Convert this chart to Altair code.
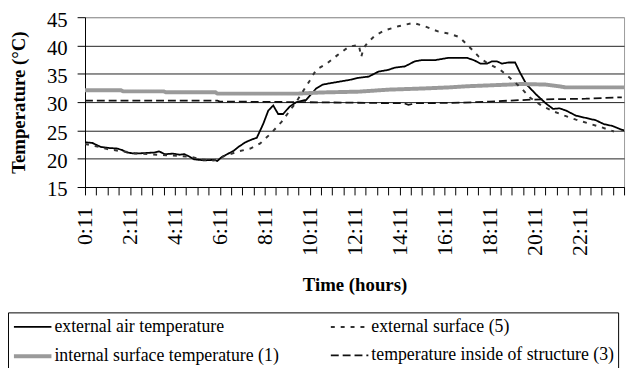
import altair as alt
import pandas as pd

SERIES = ["external air temperature", "internal surface temperature (1)",
          "external surface (5)", "temperature inside of structure (3)"]

# hours after 0:11
air_h = [0.0, 0.32, 0.69, 1.05, 1.42, 1.64, 1.86, 2.23, 2.67, 3.11, 3.30, 3.55, 3.91, 4.21,
         4.42, 4.64, 4.86, 5.30, 5.74, 5.89, 6.09, 6.33, 6.62, 6.84, 7.14, 7.43, 7.65, 7.94,
         8.16, 8.38, 8.60, 8.82, 9.11, 9.41, 9.85, 10.07, 10.29, 10.58, 11.16, 11.75, 12.19,
         12.63, 13.07, 13.51, 13.80, 14.24, 14.68, 14.97, 15.56, 16.15, 17.02, 17.32, 17.61,
         17.90, 18.12, 18.34, 18.56, 18.86, 19.15, 19.37, 19.66, 20.10, 20.54, 20.84, 21.13,
         21.42, 21.86, 22.30, 22.74, 23.11, 23.47, 23.91, 24.0]
air_t = [22.9, 22.8, 22.1, 21.9, 21.8, 21.55, 21.1, 20.9, 21.0, 21.1, 21.3, 20.8, 20.9, 20.7,
         20.8, 20.4, 19.9, 19.7, 19.8, 19.6, 20.3, 20.8, 21.4, 22.1, 22.9, 23.4, 23.7, 26.2,
         28.5, 29.4, 27.9, 27.9, 29.2, 30.0, 30.4, 31.4, 32.4, 33.1, 33.5, 33.9, 34.3,
         34.5, 35.4, 35.7, 36.1, 36.3, 37.2, 37.4, 37.4, 37.8, 37.8, 37.4, 36.8,
         36.8, 37.2, 37.2, 36.8, 37.0, 37.0, 35.2, 33.1, 31.3, 29.7, 28.8, 28.9,
         28.5, 27.6, 27.2, 26.8, 26.1, 25.8, 25.1, 25.0]

surf_h = [0.0, 0.5, 1.0, 1.5, 2.2, 2.9, 3.6, 4.2, 4.75, 5.30, 5.74, 6.3, 6.84, 7.36, 7.80,
          8.31, 8.75, 9.4, 9.99, 10.29, 10.80, 11.24, 11.75, 12.19, 12.30, 12.40, 12.56,
          12.92, 13.36, 13.95, 14.61, 15.12, 15.71, 16.22, 16.66, 17.10, 17.54, 17.90,
          18.49, 19.0, 19.44, 19.81, 20.32, 20.84, 21.35, 21.86, 22.45, 22.96, 23.55]
surf_t = [22.6, 22.2, 21.7, 21.4, 21.0, 20.8, 20.6, 20.5, 20.3, 19.8, 19.7, 20.6, 21.3, 21.8,
          22.7, 24.6, 26.5, 30.0, 33.7, 35.7, 36.9, 38.3, 39.8, 40.1, 38.0, 39.5, 40.4,
          41.8, 42.7, 43.4, 44.0, 43.4, 42.5, 42.1, 41.5, 39.8, 38.0, 36.9,
          35.7, 34.0, 32.4, 30.8, 29.4, 28.4, 27.6, 26.9, 26.2, 25.6, 24.8]

int_h = [0.0, 1.6, 1.7, 3.5, 3.6, 5.8, 5.9, 9.5, 10.5, 12.2, 13.5, 15.0, 16.2, 17.0, 18.9,
         19.4, 20.5, 21.1, 21.4, 24.0]
int_t = [32.1, 32.1, 31.9, 31.9, 31.75, 31.75, 31.5, 31.5, 31.7, 31.85, 32.2, 32.4, 32.6,
         32.8, 33.1, 33.2, 33.1, 32.8, 32.6, 32.6]

ins_h = [0.0, 5.9, 6.0, 9.4, 14.2, 14.4, 14.6, 14.7, 16.8, 18.0, 19.4, 20.0, 22.3, 23.9]
ins_t = [30.25, 30.25, 30.1, 30.0, 29.8, 29.5, 29.7, 29.8, 29.9, 30.1, 30.35, 30.45, 30.6, 30.85]

y_ticks = [15, 20, 25, 30, 35, 40, 45]
x_ticks = [i * 0.5 for i in range(49)]

COLORS = ["#000000", "#9a9a9a", "#333333", "#111111"]
DASHES = [[1, 0], [1, 0], [4, 6], [8, 4]]
WIDTHS = [1.8, 4.0, 2.0, 1.8]

frames = []
for name, hs, ts in zip(SERIES, [air_h, int_h, surf_h, ins_h], [air_t, int_t, surf_t, ins_t]):
    assert len(hs) == len(ts), name
    frames.append(pd.DataFrame({"hour": hs, "temp": ts, "series": name}))
df = pd.concat(frames, ignore_index=True)

FONT = "Liberation Serif"

legend = alt.Legend(
    title=None, orient="none", legendX=-78, legendY=299, columns=2,
    symbolType="M-1,0H3", symbolSize=361, labelOffset=20,
    labelFont=FONT, labelFontSize=18, labelColor="black", labelLimit=600,
    columnPadding=48, rowPadding=9, padding=4,
    strokeColor="black", fillColor="white",
)

chart = alt.Chart(df).mark_line(clip=True).encode(
    x=alt.X("hour:Q",
            scale=alt.Scale(domain=[0, 24], nice=False, zero=False),
            axis=alt.Axis(values=x_ticks, title="Time (hours)",
                          labelExpr="(datum.value % 2 == 0 && datum.value < 24) ? floor(datum.value) + ':11' : ''",
                          labelAngle=270, labelAlign="right", labelBaseline="middle",
                          labelPadding=12, labelFont=FONT, labelFontSize=22, labelColor="black",
                          labelOverlap=False, labelFlush=False, labelBound=False,
                          tickSize=8, tickColor="black", domainColor="black", grid=False,
                          titleFont=FONT, titleFontSize=19, titleFontWeight="bold",
                          titleColor="black", titleX=273, titleY=99,
                          titleAlign="center", titleBaseline="middle")),
    y=alt.Y("temp:Q",
            scale=alt.Scale(domain=[15, 45], nice=False, zero=False),
            axis=alt.Axis(values=y_ticks, title="Temperature (°C)",
                          labelFont=FONT, labelFontSize=21, labelColor="black", labelPadding=10,
                          labelOffset=3, labelFlush=False,
                          tickSize=8, tickColor="black", domainColor="black",
                          grid=True,
                          gridColor={"condition": {"test": "datum.value === 45", "value": "#9a9a9a"}, "value": "#222222"},
                          gridWidth=1,
                          titleFont=FONT, titleFontSize=19, titleFontWeight="bold",
                          titleColor="black", titleAngle=270, titleX=-67, titleY=86,
                          titleAlign="center", titleBaseline="middle")),
    color=alt.Color("series:N", scale=alt.Scale(domain=SERIES, range=COLORS), legend=legend),
    strokeDash=alt.StrokeDash("series:N", scale=alt.Scale(domain=SERIES, range=DASHES), legend=legend),
    strokeWidth=alt.StrokeWidth("series:N", scale=alt.Scale(type="ordinal", domain=SERIES, range=WIDTHS), legend=legend),
    detail="series:N",
).properties(
    width=546, height=172,
    autosize=alt.AutoSizeParams(type="none"),
    padding={"left": 78, "top": 7, "right": 4, "bottom": 181},
).configure_view(stroke="#9a9a9a", strokeWidth=1)

chart.save("out.html", embed_options={"renderer": "svg", "actions": False})
